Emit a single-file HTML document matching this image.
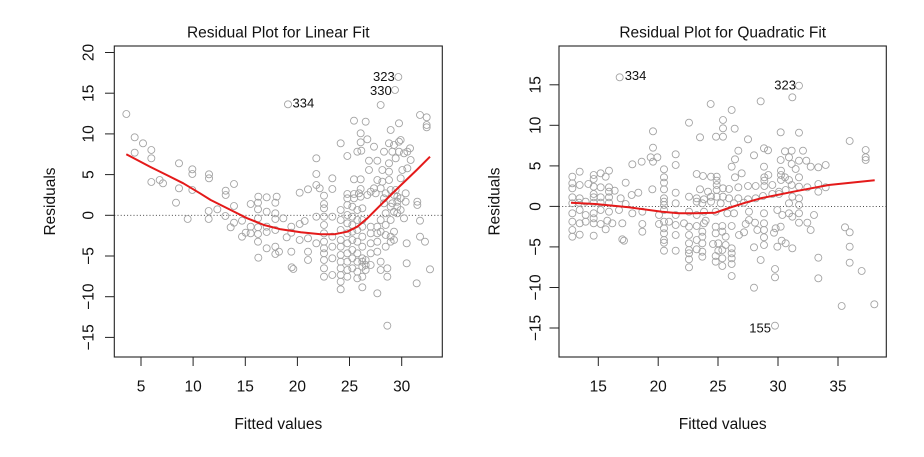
<!DOCTYPE html>
<html><head><meta charset="utf-8"><style>
html,body{margin:0;padding:0;background:#fff;}
svg{display:block;}
text{font-family:"Liberation Sans",Arial,sans-serif;fill:#111;}
.t{font-size:15.5px;}
.lb{font-size:13px;}
.pts circle{fill:none;stroke:#a2a2a2;stroke-width:2.6;}
</style></head><body>
<svg width="924" height="457" viewBox="0 0 924 457" xmlns="http://www.w3.org/2000/svg">
<rect width="924" height="457" fill="#fff"/>

<!-- ================= LEFT PLOT ================= -->
<text class="t" x="278.3" y="37.5" text-anchor="middle">Residual Plot for Linear Fit</text>
<text class="t" x="278.3" y="429" text-anchor="middle">Fitted values</text>
<text class="t" transform="translate(55,201.5) rotate(-90)" text-anchor="middle">Residuals</text>

<!-- zero line -->
<line x1="114.3" y1="215.3" x2="442.3" y2="215.3" stroke="#333" stroke-width="0.9" stroke-dasharray="1,2.2"/>

<!-- points left -->
<g class="pts" transform="translate(114,80) scale(0.33333)">
<circle cx="37" cy="102" r="10.5"/><circle cx="62" cy="172" r="10.5"/><circle cx="62" cy="218" r="10.5"/><circle cx="87" cy="190" r="10.5"/><circle cx="112" cy="210" r="10.5"/><circle cx="112" cy="235" r="10.5"/><circle cx="112" cy="306" r="10.5"/><circle cx="137" cy="300" r="10.5"/><circle cx="147" cy="310" r="10.5"/>
<circle cx="195" cy="250" r="10.5"/><circle cx="195" cy="325" r="10.5"/><circle cx="235" cy="268" r="10.5"/><circle cx="235" cy="282" r="10.5"/><circle cx="235" cy="330" r="10.5"/><circle cx="285" cy="283" r="10.5"/><circle cx="285" cy="295" r="10.5"/>
<circle cx="335" cy="332" r="10.5"/><circle cx="335" cy="345" r="10.5"/><circle cx="360" cy="312" r="10.5"/><circle cx="433" cy="350" r="10.5"/><circle cx="458" cy="352" r="10.5"/><circle cx="488" cy="350" r="10.5"/>
<circle cx="522" cy="73" r="10.5"/>
<circle cx="557" cy="338" r="10.5"/><circle cx="582" cy="328" r="10.5"/><circle cx="607" cy="235" r="10.5"/><circle cx="607" cy="282" r="10.5"/><circle cx="607" cy="315" r="10.5"/><circle cx="617" cy="325" r="10.5"/><circle cx="655" cy="295" r="10.5"/><circle cx="655" cy="327" r="10.5"/><circle cx="630" cy="347" r="10.5"/>
<circle cx="680" cy="190" r="10.5"/><circle cx="700" cy="228" r="10.5"/><circle cx="700" cy="342" r="10.5"/><circle cx="720" cy="342" r="10.5"/><circle cx="720" cy="122" r="10.5"/><circle cx="755" cy="125" r="10.5"/><circle cx="740" cy="160" r="10.5"/><circle cx="740" cy="187" r="10.5"/><circle cx="730" cy="215" r="10.5"/><circle cx="742" cy="212" r="10.5"/><circle cx="760" cy="178" r="10.5"/><circle cx="740" cy="298" r="10.5"/><circle cx="720" cy="298" r="10.5"/><circle cx="740" cy="327" r="10.5"/><circle cx="740" cy="350" r="10.5"/>
<circle cx="765" cy="242" r="10.5"/><circle cx="765" cy="270" r="10.5"/><circle cx="780" cy="200" r="10.5"/><circle cx="780" cy="325" r="10.5"/><circle cx="790" cy="242" r="10.5"/><circle cx="790" cy="300" r="10.5"/><circle cx="800" cy="75" r="10.5"/><circle cx="805" cy="270" r="10.5"/><circle cx="805" cy="305" r="10.5"/><circle cx="810" cy="215" r="10.5"/>
<circle cx="825" cy="190" r="10.5"/><circle cx="825" cy="250" r="10.5"/><circle cx="825" cy="275" r="10.5"/><circle cx="825" cy="300" r="10.5"/><circle cx="830" cy="150" r="10.5"/><circle cx="835" cy="215" r="10.5"/><circle cx="840" cy="195" r="10.5"/><circle cx="845" cy="235" r="10.5"/><circle cx="845" cy="330" r="10.5"/><circle cx="855" cy="130" r="10.5"/><circle cx="855" cy="185" r="10.5"/><circle cx="855" cy="215" r="10.5"/><circle cx="860" cy="180" r="10.5"/><circle cx="860" cy="295" r="10.5"/><circle cx="865" cy="270" r="10.5"/><circle cx="870" cy="220" r="10.5"/><circle cx="880" cy="215" r="10.5"/><circle cx="880" cy="265" r="10.5"/><circle cx="888" cy="205" r="10.5"/><circle cx="890" cy="240" r="10.5"/><circle cx="830" cy="330" r="10.5"/><circle cx="815" cy="340" r="10.5"/><circle cx="800" cy="325" r="10.5"/><circle cx="770" cy="335" r="10.5"/>
<circle cx="700" cy="355" r="10.5"/><circle cx="720" cy="355" r="10.5"/><circle cx="735" cy="340" r="10.5"/><circle cx="760" cy="345" r="10.5"/><circle cx="785" cy="340" r="10.5"/><circle cx="810" cy="355" r="10.5"/><circle cx="840" cy="345" r="10.5"/><circle cx="850" cy="350" r="10.5"/><circle cx="860" cy="355" r="10.5"/><circle cx="875" cy="340" r="10.5"/>
<circle cx="843" cy="30" r="10.5"/>
<circle cx="918" cy="105" r="10.5"/><circle cx="938" cy="112" r="10.5"/><circle cx="938" cy="135" r="10.5"/><circle cx="938" cy="142" r="10.5"/>
</g>
<g class="pts" transform="translate(0,0) scale(0.33333)">
<circle cx="1195" cy="231" r="10.5"/>
</g>
<g class="pts" transform="translate(114,200) scale(0.33333)">
<circle cx="186" cy="8" r="10.5"/><circle cx="221" cy="57" r="10.5"/><circle cx="284" cy="33" r="10.5"/><circle cx="284" cy="57" r="10.5"/><circle cx="310" cy="28" r="10.5"/><circle cx="334" cy="48" r="10.5"/><circle cx="350" cy="82" r="10.5"/><circle cx="360" cy="18" r="10.5"/><circle cx="360" cy="68" r="10.5"/><circle cx="384" cy="62" r="10.5"/><circle cx="384" cy="110" r="10.5"/><circle cx="395" cy="98" r="10.5"/><circle cx="410" cy="12" r="10.5"/><circle cx="410" cy="80" r="10.5"/><circle cx="410" cy="100" r="10.5"/>
<circle cx="432" cy="8" r="10.5"/><circle cx="432" cy="28" r="10.5"/><circle cx="432" cy="55" r="10.5"/><circle cx="432" cy="82" r="10.5"/><circle cx="432" cy="102" r="10.5"/><circle cx="432" cy="125" r="10.5"/><circle cx="433" cy="173" r="10.5"/>
<circle cx="458" cy="35" r="10.5"/><circle cx="458" cy="80" r="10.5"/><circle cx="458" cy="96" r="10.5"/><circle cx="458" cy="145" r="10.5"/>
<circle cx="484" cy="8" r="10.5"/><circle cx="484" cy="40" r="10.5"/><circle cx="484" cy="57" r="10.5"/><circle cx="484" cy="90" r="10.5"/><circle cx="484" cy="140" r="10.5"/><circle cx="484" cy="162" r="10.5"/><circle cx="495" cy="155" r="10.5"/><circle cx="508" cy="55" r="10.5"/><circle cx="518" cy="112" r="10.5"/>
<circle cx="532" cy="80" r="10.5"/><circle cx="532" cy="98" r="10.5"/><circle cx="532" cy="155" r="10.5"/><circle cx="533" cy="202" r="10.5"/><circle cx="538" cy="207" r="10.5"/><circle cx="557" cy="72" r="10.5"/><circle cx="557" cy="120" r="10.5"/><circle cx="572" cy="63" r="10.5"/><circle cx="582" cy="115" r="10.5"/><circle cx="582" cy="155" r="10.5"/><circle cx="582" cy="180" r="10.5"/><circle cx="607" cy="50" r="10.5"/><circle cx="607" cy="130" r="10.5"/>
<circle cx="630" cy="12" r="10.5"/><circle cx="630" cy="25" r="10.5"/><circle cx="630" cy="50" r="10.5"/><circle cx="630" cy="75" r="10.5"/><circle cx="630" cy="100" r="10.5"/><circle cx="630" cy="125" r="10.5"/><circle cx="630" cy="145" r="10.5"/><circle cx="630" cy="160" r="10.5"/><circle cx="630" cy="180" r="10.5"/><circle cx="630" cy="205" r="10.5"/><circle cx="630" cy="230" r="10.5"/>
<circle cx="655" cy="50" r="10.5"/><circle cx="655" cy="110" r="10.5"/><circle cx="655" cy="140" r="10.5"/><circle cx="655" cy="175" r="10.5"/><circle cx="655" cy="225" r="10.5"/>
<circle cx="680" cy="30" r="10.5"/><circle cx="680" cy="60" r="10.5"/><circle cx="680" cy="90" r="10.5"/><circle cx="680" cy="120" r="10.5"/><circle cx="680" cy="140" r="10.5"/><circle cx="680" cy="165" r="10.5"/><circle cx="680" cy="185" r="10.5"/><circle cx="680" cy="205" r="10.5"/><circle cx="680" cy="225" r="10.5"/><circle cx="680" cy="245" r="10.5"/><circle cx="680" cy="268" r="10.5"/>
<circle cx="700" cy="15" r="10.5"/><circle cx="700" cy="45" r="10.5"/><circle cx="700" cy="70" r="10.5"/><circle cx="700" cy="100" r="10.5"/><circle cx="700" cy="130" r="10.5"/><circle cx="700" cy="160" r="10.5"/><circle cx="700" cy="185" r="10.5"/><circle cx="700" cy="210" r="10.5"/><circle cx="700" cy="230" r="10.5"/>
<circle cx="715" cy="20" r="10.5"/><circle cx="715" cy="50" r="10.5"/><circle cx="715" cy="75" r="10.5"/><circle cx="715" cy="95" r="10.5"/><circle cx="715" cy="120" r="10.5"/><circle cx="715" cy="150" r="10.5"/><circle cx="715" cy="175" r="10.5"/><circle cx="715" cy="205" r="10.5"/>
<circle cx="730" cy="30" r="10.5"/><circle cx="730" cy="60" r="10.5"/><circle cx="730" cy="90" r="10.5"/><circle cx="730" cy="125" r="10.5"/><circle cx="730" cy="160" r="10.5"/><circle cx="730" cy="185" r="10.5"/><circle cx="730" cy="215" r="10.5"/><circle cx="730" cy="235" r="10.5"/>
<circle cx="745" cy="25" r="10.5"/><circle cx="745" cy="60" r="10.5"/><circle cx="745" cy="80" r="10.5"/><circle cx="745" cy="110" r="10.5"/><circle cx="745" cy="140" r="10.5"/><circle cx="745" cy="175" r="10.5"/><circle cx="745" cy="185" r="10.5"/><circle cx="745" cy="200" r="10.5"/><circle cx="745" cy="230" r="10.5"/><circle cx="745" cy="262" r="10.5"/>
<circle cx="755" cy="180" r="10.5"/><circle cx="755" cy="195" r="10.5"/><circle cx="755" cy="210" r="10.5"/>
<circle cx="770" cy="80" r="10.5"/><circle cx="770" cy="100" r="10.5"/><circle cx="770" cy="130" r="10.5"/><circle cx="770" cy="160" r="10.5"/><circle cx="770" cy="195" r="10.5"/>
<circle cx="790" cy="80" r="10.5"/><circle cx="790" cy="100" r="10.5"/><circle cx="790" cy="125" r="10.5"/><circle cx="790" cy="155" r="10.5"/><circle cx="790" cy="280" r="10.5"/>
<circle cx="800" cy="60" r="10.5"/><circle cx="800" cy="95" r="10.5"/><circle cx="800" cy="185" r="10.5"/><circle cx="800" cy="210" r="10.5"/>
<circle cx="815" cy="40" r="10.5"/><circle cx="815" cy="75" r="10.5"/><circle cx="815" cy="105" r="10.5"/><circle cx="815" cy="140" r="10.5"/>
<circle cx="820" cy="205" r="10.5"/><circle cx="820" cy="230" r="10.5"/><circle cx="820" cy="377" r="10.5"/>
<circle cx="830" cy="20" r="10.5"/><circle cx="830" cy="60" r="10.5"/><circle cx="830" cy="110" r="10.5"/><circle cx="830" cy="125" r="10.5"/>
<circle cx="840" cy="35" r="10.5"/><circle cx="840" cy="95" r="10.5"/><circle cx="840" cy="120" r="10.5"/>
<circle cx="850" cy="5" r="10.5"/><circle cx="850" cy="20" r="10.5"/><circle cx="850" cy="40" r="10.5"/>
<circle cx="810" cy="10" r="10.5"/><circle cx="835" cy="10" r="10.5"/><circle cx="860" cy="30" r="10.5"/><circle cx="875" cy="5" r="10.5"/><circle cx="910" cy="5" r="10.5"/>
<circle cx="870" cy="55" r="10.5"/><circle cx="878" cy="130" r="10.5"/><circle cx="878" cy="190" r="10.5"/><circle cx="910" cy="15" r="10.5"/><circle cx="918" cy="62" r="10.5"/><circle cx="918" cy="110" r="10.5"/><circle cx="933" cy="125" r="10.5"/><circle cx="908" cy="250" r="10.5"/><circle cx="948" cy="208" r="10.5"/>
</g>

<!-- red smooth left -->
<polyline fill="none" stroke="#e41a1a" stroke-width="2" stroke-linejoin="round" points="126.3,154.3 150,166.7 166.7,175 183.3,183.3 200,193.3 210.7,200 230.7,210 247.3,218.3 264,225 280.7,229.3 300.7,232.3 320.7,234.3 334,234.3 347.3,231.7 357.3,226.7 367.3,218.3 377.3,208.3 385.7,200 400,186 416.7,170 430,156.7"/>

<!-- labels left -->
<text class="lb" x="292.5" y="107.5">334</text>
<text class="lb" x="373" y="81">323</text>
<text class="lb" x="370" y="95">330</text>

<!-- box left -->
<rect x="114.3" y="46" width="328" height="311" fill="none" stroke="#222" stroke-width="1.1"/>

<!-- axes ticks left -->
<g stroke="#222" stroke-width="1">
<line x1="105" y1="52.5" x2="114.3" y2="52.5"/><line x1="105" y1="93.2" x2="114.3" y2="93.2"/><line x1="105" y1="133.9" x2="114.3" y2="133.9"/><line x1="105" y1="174.6" x2="114.3" y2="174.6"/><line x1="105" y1="215.3" x2="114.3" y2="215.3"/><line x1="105" y1="256" x2="114.3" y2="256"/><line x1="105" y1="296.7" x2="114.3" y2="296.7"/><line x1="105" y1="337.4" x2="114.3" y2="337.4"/>
<line x1="141" y1="357" x2="141" y2="366"/><line x1="193.1" y1="357" x2="193.1" y2="366"/><line x1="245.3" y1="357" x2="245.3" y2="366"/><line x1="297.4" y1="357" x2="297.4" y2="366"/><line x1="349.5" y1="357" x2="349.5" y2="366"/><line x1="401.7" y1="357" x2="401.7" y2="366"/>
</g>
<g class="t" text-anchor="middle">
<text transform="translate(93.3,52.5) rotate(-90)">20</text>
<text transform="translate(93.3,93.2) rotate(-90)">15</text>
<text transform="translate(93.3,133.9) rotate(-90)">10</text>
<text transform="translate(93.3,174.6) rotate(-90)">5</text>
<text transform="translate(93.3,215.3) rotate(-90)">0</text>
<text transform="translate(93.3,256) rotate(-90)">−5</text>
<text transform="translate(93.3,296.7) rotate(-90)">−10</text>
<text transform="translate(93.3,337.4) rotate(-90)">−15</text>
<text x="141" y="391.3">5</text><text x="193.1" y="391.3">10</text><text x="245.3" y="391.3">15</text><text x="297.4" y="391.3">20</text><text x="349.5" y="391.3">25</text><text x="401.7" y="391.3">30</text>
</g>

<!-- ================= RIGHT PLOT ================= -->
<text class="t" x="722.7" y="37.5" text-anchor="middle">Residual Plot for Quadratic Fit</text>
<text class="t" x="722.7" y="429" text-anchor="middle">Fitted values</text>
<text class="t" transform="translate(499.7,201.5) rotate(-90)" text-anchor="middle">Residuals</text>

<line x1="559" y1="206.4" x2="886.3" y2="206.4" stroke="#333" stroke-width="0.9" stroke-dasharray="1,2.2"/>

<g class="pts" transform="translate(559,70) scale(0.33333)">
<circle cx="182" cy="22" r="10.5"/><circle cx="720" cy="47" r="10.5"/><circle cx="700" cy="82" r="10.5"/><circle cx="605" cy="94" r="10.5"/><circle cx="455" cy="102" r="10.5"/><circle cx="518" cy="120" r="10.5"/><circle cx="390" cy="158" r="10.5"/><circle cx="492" cy="150" r="10.5"/><circle cx="492" cy="175" r="10.5"/><circle cx="527" cy="176" r="10.5"/><circle cx="282" cy="184" r="10.5"/><circle cx="665" cy="187" r="10.5"/><circle cx="720" cy="188" r="10.5"/><circle cx="423" cy="202" r="10.5"/><circle cx="471" cy="200" r="10.5"/><circle cx="492" cy="200" r="10.5"/><circle cx="567" cy="208" r="10.5"/><circle cx="872" cy="213" r="10.5"/>
<circle cx="282" cy="233" r="10.5"/><circle cx="615" cy="235" r="10.5"/><circle cx="627" cy="241" r="10.5"/><circle cx="538" cy="242" r="10.5"/><circle cx="678" cy="244" r="10.5"/><circle cx="698" cy="242" r="10.5"/><circle cx="732" cy="242" r="10.5"/><circle cx="920" cy="240" r="10.5"/><circle cx="350" cy="253" r="10.5"/><circle cx="920" cy="262" r="10.5"/><circle cx="920" cy="270" r="10.5"/>
<circle cx="248" cy="275" r="10.5"/><circle cx="275" cy="262" r="10.5"/><circle cx="295" cy="262" r="10.5"/><circle cx="282" cy="275" r="10.5"/><circle cx="220" cy="283" r="10.5"/><circle cx="528" cy="268" r="10.5"/><circle cx="585" cy="256" r="10.5"/><circle cx="665" cy="270" r="10.5"/><circle cx="690" cy="262" r="10.5"/><circle cx="720" cy="272" r="10.5"/><circle cx="742" cy="272" r="10.5"/><circle cx="698" cy="282" r="10.5"/><circle cx="710" cy="297" r="10.5"/><circle cx="755" cy="290" r="10.5"/><circle cx="778" cy="292" r="10.5"/><circle cx="800" cy="285" r="10.5"/><circle cx="350" cy="285" r="10.5"/><circle cx="518" cy="290" r="10.5"/><circle cx="615" cy="290" r="10.5"/>
<circle cx="62" cy="305" r="10.5"/><circle cx="150" cy="302" r="10.5"/><circle cx="125" cy="310" r="10.5"/><circle cx="104" cy="315" r="10.5"/><circle cx="140" cy="320" r="10.5"/><circle cx="40" cy="320" r="10.5"/><circle cx="104" cy="327" r="10.5"/><circle cx="315" cy="298" r="10.5"/><circle cx="315" cy="322" r="10.5"/><circle cx="315" cy="338" r="10.5"/><circle cx="413" cy="312" r="10.5"/><circle cx="432" cy="318" r="10.5"/><circle cx="456" cy="320" r="10.5"/><circle cx="473" cy="320" r="10.5"/><circle cx="473" cy="332" r="10.5"/><circle cx="473" cy="345" r="10.5"/><circle cx="548" cy="310" r="10.5"/><circle cx="528" cy="322" r="10.5"/><circle cx="616" cy="322" r="10.5"/><circle cx="616" cy="332" r="10.5"/><circle cx="628" cy="315" r="10.5"/><circle cx="666" cy="302" r="10.5"/><circle cx="666" cy="315" r="10.5"/><circle cx="666" cy="330" r="10.5"/><circle cx="678" cy="322" r="10.5"/><circle cx="690" cy="330" r="10.5"/><circle cx="720" cy="322" r="10.5"/><circle cx="698" cy="345" r="10.5"/>
<circle cx="40" cy="340" r="10.5"/><circle cx="40" cy="355" r="10.5"/><circle cx="62" cy="345" r="10.5"/><circle cx="88" cy="342" r="10.5"/><circle cx="104" cy="350" r="10.5"/><circle cx="125" cy="352" r="10.5"/><circle cx="150" cy="352" r="10.5"/><circle cx="150" cy="365" r="10.5"/><circle cx="167" cy="362" r="10.5"/><circle cx="200" cy="338" r="10.5"/><circle cx="280" cy="358" r="10.5"/><circle cx="315" cy="358" r="10.5"/><circle cx="350" cy="368" r="10.5"/><circle cx="423" cy="358" r="10.5"/><circle cx="447" cy="365" r="10.5"/><circle cx="473" cy="360" r="10.5"/><circle cx="492" cy="355" r="10.5"/><circle cx="510" cy="357" r="10.5"/><circle cx="538" cy="352" r="10.5"/><circle cx="567" cy="348" r="10.5"/><circle cx="590" cy="348" r="10.5"/><circle cx="616" cy="348" r="10.5"/><circle cx="640" cy="345" r="10.5"/><circle cx="660" cy="365" r="10.5"/><circle cx="680" cy="360" r="10.5"/><circle cx="720" cy="350" r="10.5"/><circle cx="745" cy="352" r="10.5"/><circle cx="778" cy="342" r="10.5"/><circle cx="778" cy="365" r="10.5"/><circle cx="800" cy="352" r="10.5"/>
<circle cx="40" cy="382" r="10.5"/><circle cx="62" cy="385" r="10.5"/><circle cx="104" cy="372" r="10.5"/><circle cx="104" cy="382" r="10.5"/><circle cx="125" cy="382" r="10.5"/><circle cx="150" cy="382" r="10.5"/><circle cx="185" cy="385" r="10.5"/><circle cx="218" cy="375" r="10.5"/><circle cx="238" cy="368" r="10.5"/><circle cx="315" cy="385" r="10.5"/><circle cx="390" cy="380" r="10.5"/><circle cx="413" cy="385" r="10.5"/><circle cx="435" cy="388" r="10.5"/><circle cx="456" cy="380" r="10.5"/><circle cx="473" cy="380" r="10.5"/><circle cx="492" cy="380" r="10.5"/><circle cx="510" cy="385" r="10.5"/><circle cx="538" cy="385" r="10.5"/><circle cx="567" cy="388" r="10.5"/><circle cx="590" cy="385" r="10.5"/><circle cx="612" cy="378" r="10.5"/><circle cx="640" cy="372" r="10.5"/><circle cx="660" cy="372" r="10.5"/><circle cx="700" cy="380" r="10.5"/><circle cx="720" cy="385" r="10.5"/>
</g>
<g class="pts" transform="translate(559,200) scale(0.33333)">
<circle cx="40" cy="10" r="10.5"/><circle cx="60" cy="8" r="10.5"/><circle cx="80" cy="5" r="10.5"/><circle cx="104" cy="8" r="10.5"/><circle cx="125" cy="8" r="10.5"/><circle cx="150" cy="8" r="10.5"/><circle cx="200" cy="12" r="10.5"/><circle cx="315" cy="5" r="10.5"/><circle cx="315" cy="15" r="10.5"/><circle cx="350" cy="10" r="10.5"/><circle cx="413" cy="5" r="10.5"/><circle cx="430" cy="10" r="10.5"/><circle cx="456" cy="5" r="10.5"/><circle cx="485" cy="10" r="10.5"/><circle cx="525" cy="10" r="10.5"/><circle cx="555" cy="8" r="10.5"/><circle cx="690" cy="10" r="10.5"/><circle cx="720" cy="15" r="10.5"/>
<circle cx="40" cy="40" r="10.5"/><circle cx="62" cy="30" r="10.5"/><circle cx="80" cy="45" r="10.5"/><circle cx="104" cy="40" r="10.5"/><circle cx="104" cy="55" r="10.5"/><circle cx="125" cy="30" r="10.5"/><circle cx="150" cy="35" r="10.5"/><circle cx="180" cy="30" r="10.5"/><circle cx="220" cy="40" r="10.5"/><circle cx="250" cy="35" r="10.5"/><circle cx="300" cy="45" r="10.5"/><circle cx="315" cy="30" r="10.5"/><circle cx="350" cy="45" r="10.5"/><circle cx="390" cy="35" r="10.5"/><circle cx="413" cy="45" r="10.5"/><circle cx="435" cy="35" r="10.5"/><circle cx="470" cy="35" r="10.5"/><circle cx="505" cy="40" r="10.5"/><circle cx="525" cy="40" r="10.5"/><circle cx="570" cy="35" r="10.5"/><circle cx="615" cy="40" r="10.5"/><circle cx="655" cy="30" r="10.5"/><circle cx="670" cy="45" r="10.5"/><circle cx="690" cy="40" r="10.5"/><circle cx="720" cy="40" r="10.5"/><circle cx="765" cy="45" r="10.5"/><circle cx="700" cy="50" r="10.5"/>
<circle cx="40" cy="65" r="10.5"/><circle cx="62" cy="70" r="10.5"/><circle cx="80" cy="65" r="10.5"/><circle cx="104" cy="70" r="10.5"/><circle cx="125" cy="72" r="10.5"/><circle cx="145" cy="62" r="10.5"/><circle cx="160" cy="70" r="10.5"/><circle cx="190" cy="70" r="10.5"/><circle cx="250" cy="72" r="10.5"/><circle cx="300" cy="72" r="10.5"/><circle cx="315" cy="65" r="10.5"/><circle cx="330" cy="65" r="10.5"/><circle cx="350" cy="75" r="10.5"/><circle cx="375" cy="70" r="10.5"/><circle cx="390" cy="80" r="10.5"/><circle cx="413" cy="78" r="10.5"/><circle cx="435" cy="70" r="10.5"/><circle cx="440" cy="62" r="10.5"/><circle cx="470" cy="80" r="10.5"/><circle cx="490" cy="78" r="10.5"/><circle cx="518" cy="78" r="10.5"/><circle cx="560" cy="72" r="10.5"/><circle cx="570" cy="60" r="10.5"/><circle cx="588" cy="68" r="10.5"/><circle cx="615" cy="70" r="10.5"/><circle cx="650" cy="85" r="10.5"/><circle cx="720" cy="68" r="10.5"/><circle cx="745" cy="68" r="10.5"/><circle cx="755" cy="90" r="10.5"/><circle cx="858" cy="82" r="10.5"/>
<circle cx="40" cy="90" r="10.5"/><circle cx="40" cy="110" r="10.5"/><circle cx="62" cy="104" r="10.5"/><circle cx="104" cy="107" r="10.5"/><circle cx="140" cy="88" r="10.5"/><circle cx="250" cy="95" r="10.5"/><circle cx="315" cy="85" r="10.5"/><circle cx="315" cy="100" r="10.5"/><circle cx="315" cy="120" r="10.5"/><circle cx="350" cy="105" r="10.5"/><circle cx="390" cy="105" r="10.5"/><circle cx="390" cy="130" r="10.5"/><circle cx="413" cy="120" r="10.5"/><circle cx="430" cy="95" r="10.5"/><circle cx="430" cy="110" r="10.5"/><circle cx="430" cy="130" r="10.5"/><circle cx="470" cy="100" r="10.5"/><circle cx="490" cy="95" r="10.5"/><circle cx="500" cy="110" r="10.5"/><circle cx="540" cy="105" r="10.5"/><circle cx="555" cy="97" r="10.5"/><circle cx="595" cy="90" r="10.5"/><circle cx="615" cy="90" r="10.5"/><circle cx="645" cy="98" r="10.5"/><circle cx="665" cy="80" r="10.5"/><circle cx="872" cy="97" r="10.5"/>
<circle cx="190" cy="118" r="10.5"/><circle cx="195" cy="122" r="10.5"/><circle cx="315" cy="128" r="10.5"/><circle cx="315" cy="152" r="10.5"/><circle cx="350" cy="152" r="10.5"/><circle cx="390" cy="150" r="10.5"/><circle cx="390" cy="160" r="10.5"/><circle cx="413" cy="148" r="10.5"/><circle cx="430" cy="155" r="10.5"/><circle cx="430" cy="170" r="10.5"/><circle cx="462" cy="132" r="10.5"/><circle cx="478" cy="130" r="10.5"/><circle cx="478" cy="152" r="10.5"/><circle cx="490" cy="150" r="10.5"/><circle cx="500" cy="135" r="10.5"/><circle cx="518" cy="145" r="10.5"/><circle cx="518" cy="160" r="10.5"/><circle cx="585" cy="142" r="10.5"/><circle cx="615" cy="135" r="10.5"/><circle cx="615" cy="112" r="10.5"/><circle cx="655" cy="140" r="10.5"/><circle cx="668" cy="122" r="10.5"/><circle cx="680" cy="130" r="10.5"/><circle cx="700" cy="145" r="10.5"/><circle cx="872" cy="140" r="10.5"/>
<circle cx="390" cy="178" r="10.5"/><circle cx="390" cy="202" r="10.5"/><circle cx="470" cy="185" r="10.5"/><circle cx="470" cy="168" r="10.5"/><circle cx="490" cy="175" r="10.5"/><circle cx="490" cy="198" r="10.5"/><circle cx="518" cy="175" r="10.5"/><circle cx="518" cy="192" r="10.5"/><circle cx="605" cy="180" r="10.5"/><circle cx="778" cy="173" r="10.5"/><circle cx="872" cy="188" r="10.5"/>
<circle cx="518" cy="228" r="10.5"/><circle cx="648" cy="207" r="10.5"/><circle cx="648" cy="232" r="10.5"/><circle cx="778" cy="235" r="10.5"/><circle cx="908" cy="213" r="10.5"/>
<circle cx="585" cy="263" r="10.5"/><circle cx="848" cy="318" r="10.5"/><circle cx="946" cy="313" r="10.5"/><circle cx="648" cy="377" r="10.5"/>
</g>

<!-- red smooth right -->
<polyline fill="none" stroke="#e41a1a" stroke-width="2" stroke-linejoin="round" points="571,202.7 595.3,204 628.7,207.3 662,211.7 678.7,213.3 695.3,213.3 715.3,212.7 728.7,208 745.3,202.7 762,198 795.3,191.3 828.7,185 874.7,180.3"/>

<text class="lb" x="624.7" y="80">334</text>
<text class="lb" x="774.3" y="89.3">323</text>
<text class="lb" x="749.3" y="332.7">155</text>

<rect x="559" y="46" width="327.3" height="311" fill="none" stroke="#222" stroke-width="1.1"/>

<g stroke="#222" stroke-width="1">
<line x1="549.5" y1="84.8" x2="559" y2="84.8"/><line x1="549.5" y1="125.3" x2="559" y2="125.3"/><line x1="549.5" y1="165.9" x2="559" y2="165.9"/><line x1="549.5" y1="206.4" x2="559" y2="206.4"/><line x1="549.5" y1="246.9" x2="559" y2="246.9"/><line x1="549.5" y1="287.5" x2="559" y2="287.5"/><line x1="549.5" y1="328" x2="559" y2="328"/>
<line x1="598.3" y1="357" x2="598.3" y2="366"/><line x1="658.2" y1="357" x2="658.2" y2="366"/><line x1="718" y1="357" x2="718" y2="366"/><line x1="778" y1="357" x2="778" y2="366"/><line x1="838" y1="357" x2="838" y2="366"/>
</g>
<g class="t" text-anchor="middle">
<text transform="translate(540.3,84.8) rotate(-90)">15</text>
<text transform="translate(540.3,125.3) rotate(-90)">10</text>
<text transform="translate(540.3,165.9) rotate(-90)">5</text>
<text transform="translate(540.3,206.4) rotate(-90)">0</text>
<text transform="translate(540.3,246.9) rotate(-90)">−5</text>
<text transform="translate(540.3,287.5) rotate(-90)">−10</text>
<text transform="translate(540.3,328) rotate(-90)">−15</text>
<text x="598.3" y="391.3">15</text><text x="658.2" y="391.3">20</text><text x="718" y="391.3">25</text><text x="778" y="391.3">30</text><text x="838" y="391.3">35</text>
</g>
</svg>
</body></html>
